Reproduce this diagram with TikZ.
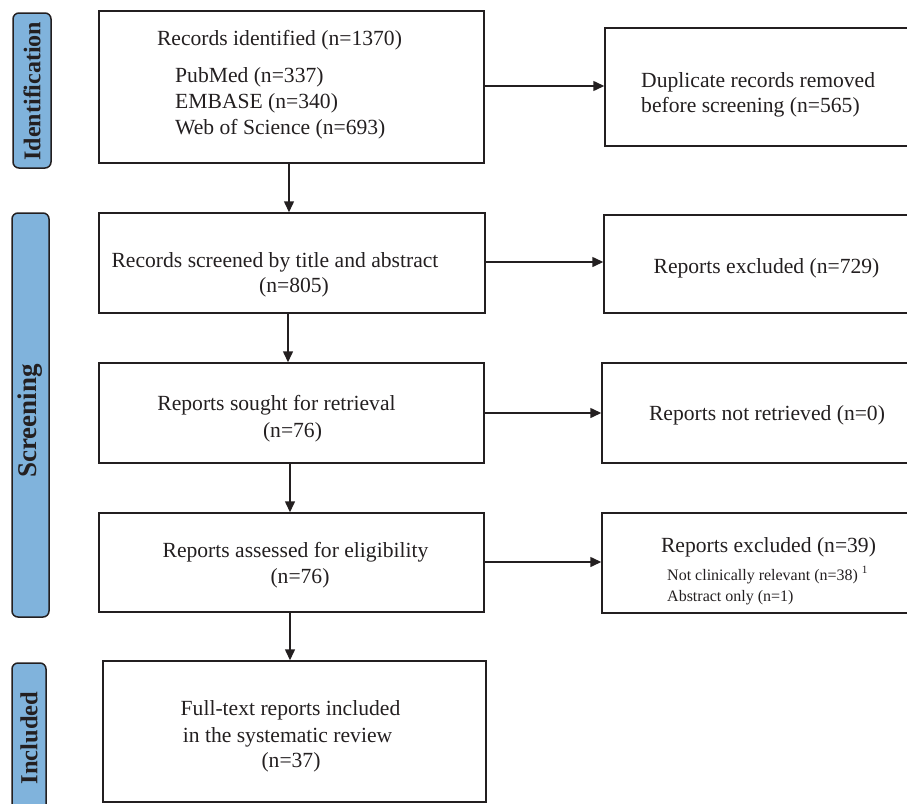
\documentclass[tikz,border=0pt]{standalone}
\usepackage{fontspec}
\setmainfont{Liberation Serif}
\usetikzlibrary{arrows.meta}
\definecolor{barblue}{HTML}{80B3DC}
\definecolor{ink}{HTML}{231F20}
\begin{document}
\begin{tikzpicture}[x=1pt,y=-1pt,
  box/.style={draw=ink,line width=1.5pt,rectangle,inner sep=0pt},
  bar/.style={draw=ink,fill=barblue,line width=1.5pt,rounded corners=6pt,rectangle,inner sep=0pt},
  barlabel/.style={rotate=90,text=ink,font=\bfseries\fontsize{24}{28}\selectfont},
  big/.style={anchor=base,text=ink,inner sep=0pt,font=\fontsize{21.6}{25}\selectfont},
  small/.style={anchor=base,text=ink,inner sep=0pt,font=\fontsize{16}{19}\selectfont},
  arr/.style={draw=ink,line width=1.5pt,-{Triangle[length=11pt,width=10pt]}}]
\useasboundingbox (0,0) rectangle (907,803);
% side bars
\node[bar,minimum width=38pt,minimum height=155pt] (barI) at (32,90.5) {};
\node[barlabel] (labI) at (32,91) {Identification};
\node[bar,minimum width=37pt,minimum height=404pt] (barS) at (30.5,415) {};
\node[barlabel,font=\bfseries\fontsize{27}{30}\selectfont] (labS) at (30.5,421) {Screening};
\node[bar,minimum width=34pt,minimum height=160pt] (barN) at (29,743) {};
\node[barlabel,font=\bfseries\fontsize{24.5}{28}\selectfont] (labN) at (29,738) {Included};
% main boxes
\node[box,minimum width=385pt,minimum height=152pt] (b1) at (291.5,87) {};
\node[box,minimum width=386pt,minimum height=100pt] (b2) at (292,263) {};
\node[box,minimum width=385pt,minimum height=100pt] (b3) at (291.5,413) {};
\node[box,minimum width=385pt,minimum height=99pt] (b4) at (291.5,562.5) {};
\node[box,minimum width=383pt,minimum height=141pt] (b5) at (294.5,731.5) {};
% right boxes
\node[box,minimum width=310pt,minimum height=118pt] (r1) at (760,87) {};
\node[box,minimum width=311pt,minimum height=98pt] (r2) at (759.5,264) {};
\node[box,minimum width=313pt,minimum height=100pt] (r3) at (758.5,413) {};
\node[box,minimum width=313pt,minimum height=100pt] (r4) at (758.5,563) {};
% texts
\node[big] (t1) at (279.5,45) {Records identified (n=1370)};
\node[big,anchor=base west] (t1a) at (175,82) {PubMed (n=337)};
\node[big,anchor=base west] (t1b) at (175,108) {EMBASE (n=340)};
\node[big,anchor=base west] (t1c) at (175,134) {Web of Science (n=693)};
\node[big,anchor=base west] (d1) at (641,87) {Duplicate records removed};
\node[big,anchor=base west] (d2) at (641,112) {before screening (n=565)};
\node[big] (t2) at (275,267) {Records screened by title and abstract};
\node[big] (t2b) at (294,292) {(n=805)};
\node[big] (e1) at (766.5,273) {Reports excluded (n=729)};
\node[big] (t3) at (276.5,410) {Reports sought for retrieval};
\node[big] (t3b) at (292.5,437) {(n=76)};
\node[big] (e2) at (767,420) {Reports not retrieved (n=0)};
\node[big] (t4) at (295.5,557) {Reports assessed for eligibility};
\node[big] (t4b) at (300,583) {(n=76)};
\node[big] (e3) at (768.5,552) {Reports excluded (n=39)};
\node[small,anchor=base west] (e3a) at (667,580) {Not clinically relevant (n=38) \textsuperscript{1}};
\node[small,anchor=base west] (e3b) at (667,601) {Abstract only (n=1)};
\node[big] (t5) at (290.5,715) {Full-text reports included};
\node[big] (t5b) at (287.5,742) {in the systematic review};
\node[big] (t5c) at (291,767) {(n=37)};
% connectors
\draw[arr] ([xshift=-2.5pt]b1.south) -- ([xshift=-2.5pt]b1.south |- b2.north);
\draw[arr] ([xshift=-4pt]b2.south) -- ([xshift=-4pt]b2.south |- b3.north);
\draw[arr] ([xshift=-1.5pt]b3.south) -- ([xshift=-1.5pt]b3.south |- b4.north);
\draw[arr] ([xshift=-1.5pt]b4.south) -- ([xshift=-1.5pt]b4.south |- b5.north);
\draw[arr] ([yshift=1pt]b1.east) -- ([yshift=1pt]b1.east -| r1.west);
\draw[arr] ([yshift=1pt]b2.east) -- ([yshift=1pt]b2.east -| r2.west);
\draw[arr] (b3.east) -- (b3.east -| r3.west);
\draw[arr] ([yshift=0.5pt]b4.east) -- ([yshift=0.5pt]b4.east -| r4.west);
\end{tikzpicture}
\end{document}
